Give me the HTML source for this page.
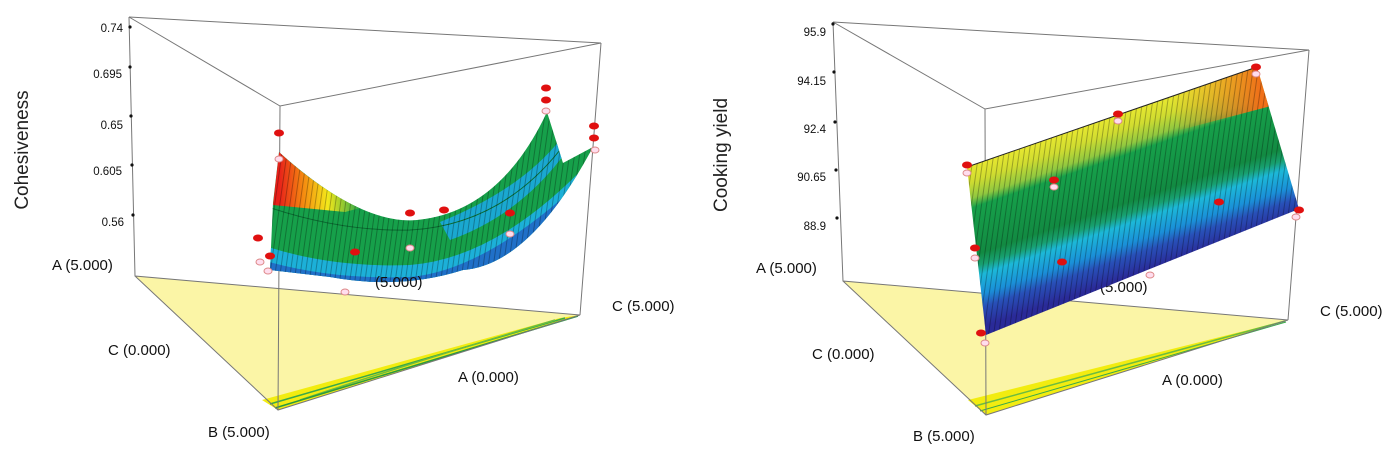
<!DOCTYPE html>
<html><head><meta charset="utf-8"><style>
html,body{margin:0;padding:0;background:#fff;}
svg{display:block;font-family:"Liberation Sans",Arial,sans-serif;}
.lab{font-size:15px;fill:#111;}
.tk{font-size:11.5px;fill:#111;text-anchor:end;}
.ax{font-size:19px;fill:#222;}
.ln{stroke:#777;stroke-width:1;fill:none;}
</style></head><body>
<svg width="1392" height="461" viewBox="0 0 1392 461">
<defs>
<pattern id="str" width="5" height="10" patternUnits="userSpaceOnUse" patternTransform="rotate(8)">
<rect x="0" y="0" width="1" height="10" fill="#000" opacity="0.28"/></pattern>
<clipPath id="surfL"><path d="M279,152 Q360,225 417,220 Q500,212 547,112 L563,163 L593,147 Q530,265 463,270 Q400,290 330,277 L270,270 L273,203 Z"/></clipPath>
<linearGradient id="redg" x1="279" y1="0" x2="360" y2="0" gradientUnits="userSpaceOnUse">
<stop offset="0" stop-color="#e8201a"/><stop offset="0.3" stop-color="#f58a10"/><stop offset="0.6" stop-color="#f4e81a"/><stop offset="1" stop-color="#2aa84a"/></linearGradient>
<linearGradient id="planeg" x1="1111" y1="117" x2="1162" y2="265" gradientUnits="userSpaceOnUse">
<stop offset="0" stop-color="#e8e830"/><stop offset="0.1" stop-color="#d0dc30"/><stop offset="0.2" stop-color="#90c840"/><stop offset="0.26" stop-color="#16a04a"/><stop offset="0.55" stop-color="#128a42"/><stop offset="0.62" stop-color="#18a070"/><stop offset="0.68" stop-color="#1cb8d8"/><stop offset="0.8" stop-color="#1a90d8"/><stop offset="0.88" stop-color="#2850b8"/><stop offset="1" stop-color="#2a2a98"/></linearGradient>
<linearGradient id="orng" x1="1170" y1="0" x2="1260" y2="0" gradientUnits="userSpaceOnUse">
<stop offset="0" stop-color="#f0a020" stop-opacity="0"/><stop offset="1" stop-color="#f07018" stop-opacity="1"/></linearGradient>
<clipPath id="planeC"><path d="M967,167 L1257,67 L1299,209 L986,335 Z"/></clipPath>
</defs>

<!-- LEFT CHART -->
<polygon points="135,276 580,315 278,410" fill="#fbf5a6"/>
<polygon points="262,400 560,318 580,315 278,410" fill="#f2ec10"/>
<path d="M270,404 L565,318" stroke="#3aa84a" stroke-width="1.5" fill="none"/>
<path d="M300,400 Q420,360 555,320" stroke="#6cbc40" stroke-width="1.5" fill="none"/>
<path d="M275,408 L578,316" stroke="#2a9a40" stroke-width="1.5" fill="none"/>
<g class="ln">
<path d="M129,17 L601,43 M129,17 L280,106 L601,43"/>
<path d="M129,17 L135,276 L580,315 L278,410 L135,276"/>
<path d="M601,43 L580,315 M280,106 L278,410"/>
</g>
<g fill="#111">
<circle cx="130" cy="27" r="1.6"/><circle cx="130" cy="67" r="1.6"/><circle cx="131" cy="116" r="1.6"/><circle cx="132" cy="165" r="1.6"/><circle cx="133" cy="215" r="1.6"/></g>
<text class="tk" x="123" y="32">0.74</text>
<text class="tk" x="122" y="78">0.695</text>
<text class="tk" x="123" y="129">0.65</text>
<text class="tk" x="122" y="175">0.605</text>
<text class="tk" x="124" y="226">0.56</text>
<text class="ax" transform="translate(28,150) rotate(-90)" text-anchor="middle">Cohesiveness</text>
<g clip-path="url(#surfL)">
<rect x="260" y="100" width="340" height="200" fill="#16a04a"/>
<path d="M440,222 Q520,190 560,140 L566,152 Q520,215 450,240 Z" fill="#1aa8d0"/>
<path d="M262,245 Q330,268 410,265 Q500,258 593,158 L600,300 L262,300 Z" fill="#1cb0d8"/>
<path d="M262,260 Q330,280 410,277 Q490,270 593,170 L600,300 L262,300 Z" fill="#2070c8"/>
<path d="M262,270 Q340,290 410,286 L600,300 L262,300 Z" fill="#28289a"/>
<path d="M279,152 Q320,190 360,208 L345,212 L273,205 Z" fill="url(#redg)"/>
<path d="M262,205 Q340,232 410,230 Q500,225 560,150" stroke="#0a6a30" stroke-width="1" fill="none"/>
<rect x="260" y="100" width="340" height="200" fill="url(#str)"/>
</g>
<text class="lab" x="375" y="287">(5.000)</text>
<g fill="#e01010">
<ellipse cx="279" cy="133" rx="5" ry="3.5"/><ellipse cx="258" cy="238" rx="5" ry="3.5"/><ellipse cx="270" cy="256" rx="5" ry="3.5"/>
<ellipse cx="410" cy="213" rx="5" ry="3.5"/><ellipse cx="444" cy="210" rx="5" ry="3.5"/><ellipse cx="510" cy="213" rx="5" ry="3.5"/>
<ellipse cx="355" cy="252" rx="5" ry="3.5"/><ellipse cx="546" cy="88" rx="5" ry="3.5"/><ellipse cx="546" cy="100" rx="5" ry="3.5"/>
<ellipse cx="594" cy="126" rx="5" ry="3.5"/><ellipse cx="594" cy="138" rx="5" ry="3.5"/></g>
<g fill="#fde" stroke="#d88" stroke-width="1">
<ellipse cx="279" cy="159" rx="4" ry="3"/><ellipse cx="260" cy="262" rx="4" ry="3"/><ellipse cx="410" cy="248" rx="4" ry="3"/>
<ellipse cx="510" cy="234" rx="4" ry="3"/><ellipse cx="345" cy="292" rx="4" ry="3"/><ellipse cx="546" cy="111" rx="4" ry="3"/>
<ellipse cx="595" cy="150" rx="4" ry="3"/><ellipse cx="268" cy="271" rx="4" ry="3"/></g>
<text class="lab" x="52" y="270">A (5.000)</text>
<text class="lab" x="108" y="355">C (0.000)</text>
<text class="lab" x="458" y="382">A (0.000)</text>
<text class="lab" x="612" y="311">C (5.000)</text>
<text class="lab" x="208" y="437">B (5.000)</text>

<!-- RIGHT CHART -->
<polygon points="843,281 1288,320 986,415" fill="#fbf5a6"/>
<polygon points="968,400 1280,322 1288,320 986,415" fill="#f2ec10"/>
<path d="M975,406 L1285,321" stroke="#6cbc40" stroke-width="1.5" fill="none"/>
<path d="M980,411 L1286,322" stroke="#3aa84a" stroke-width="1" fill="none"/>
<g class="ln">
<path d="M833,22 L1309,50 M833,22 L985,109 L1309,50"/>
<path d="M833,22 L843,281 L1288,320 L986,415 L843,281"/>
<path d="M1309,50 L1288,320 M985,109 L986,415"/>
</g>
<g fill="#111">
<circle cx="833" cy="24" r="1.6"/><circle cx="834" cy="72" r="1.6"/><circle cx="835" cy="122" r="1.6"/><circle cx="836" cy="170" r="1.6"/><circle cx="837" cy="218" r="1.6"/></g>
<text class="tk" x="826" y="36">95.9</text>
<text class="tk" x="826" y="85">94.15</text>
<text class="tk" x="826" y="133">92.4</text>
<text class="tk" x="826" y="181">90.65</text>
<text class="tk" x="826" y="230">88.9</text>
<text class="ax" transform="translate(727,155) rotate(-90)" text-anchor="middle">Cooking yield</text>
<text class="lab" x="1100" y="292">(5.000)</text>
<g clip-path="url(#planeC)">
<rect x="960" y="60" width="345" height="280" fill="url(#planeg)"/>
<polygon points="1170,90 1260,60 1275,105 1180,130" fill="url(#orng)"/>
<rect x="960" y="60" width="345" height="280" fill="url(#str)"/>
</g>
<path d="M967,167 L1257,67" stroke="#222" stroke-width="1"/>
<g fill="#e01010">
<ellipse cx="967" cy="165" rx="5" ry="3.5"/><ellipse cx="1054" cy="180" rx="5" ry="3.5"/><ellipse cx="1118" cy="114" rx="5" ry="3.5"/>
<ellipse cx="1256" cy="67" rx="5" ry="3.5"/><ellipse cx="975" cy="248" rx="5" ry="3.5"/><ellipse cx="1062" cy="262" rx="5" ry="3.5"/>
<ellipse cx="1219" cy="202" rx="5" ry="3.5"/><ellipse cx="1299" cy="210" rx="5" ry="3.5"/><ellipse cx="981" cy="333" rx="5" ry="3.5"/></g>
<g fill="#fde" stroke="#d88" stroke-width="1">
<ellipse cx="967" cy="173" rx="4" ry="3"/><ellipse cx="1054" cy="187" rx="4" ry="3"/><ellipse cx="1118" cy="121" rx="4" ry="3"/>
<ellipse cx="1256" cy="74" rx="4" ry="3"/><ellipse cx="975" cy="258" rx="4" ry="3"/><ellipse cx="1150" cy="275" rx="4" ry="3"/>
<ellipse cx="1296" cy="217" rx="4" ry="3"/><ellipse cx="985" cy="343" rx="4" ry="3"/></g>
<text class="lab" x="756" y="273">A (5.000)</text>
<text class="lab" x="812" y="359">C (0.000)</text>
<text class="lab" x="1162" y="385">A (0.000)</text>
<text class="lab" x="1320" y="316">C (5.000)</text>
<text class="lab" x="913" y="441">B (5.000)</text>
</svg>
</body></html>
